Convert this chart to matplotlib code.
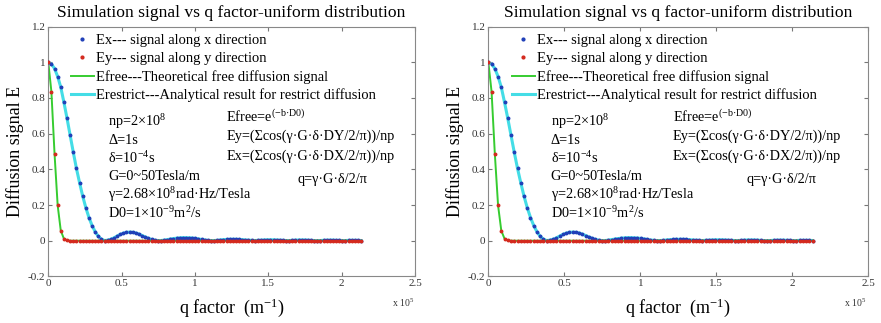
"""
Simulated vs analytical diffusion signal against q factor (uniform distribution),
drawn twice side by side as in the reference figure.
"""

import matplotlib.pyplot as plt
from matplotlib.lines import Line2D

plt.rcParams["font.family"] = ["Liberation Serif", "DejaVu Serif"]
plt.rcParams["mathtext.fontset"] = "custom"
plt.rcParams["mathtext.rm"] = "Liberation Serif"
plt.rcParams["mathtext.it"] = "Liberation Serif:italic"
plt.rcParams["mathtext.bf"] = "Liberation Serif:bold"

# q factor, in units of 1e5 m^-1 (G = 0 ~ 50 Tesla/m in 101 steps)
Q = [
    0.0, 0.0213, 0.0427, 0.0640, 0.0853, 0.1067, 0.1280, 0.1493, 0.1706, 0.1920,
    0.2133, 0.2346, 0.2560, 0.2773, 0.2986, 0.3200, 0.3413, 0.3626, 0.3839, 0.4053,
    0.4266, 0.4479, 0.4693, 0.4906, 0.5119, 0.5333, 0.5546, 0.5759, 0.5972, 0.6186,
    0.6399, 0.6612, 0.6826, 0.7039, 0.7252, 0.7466, 0.7679, 0.7892, 0.8105, 0.8319,
    0.8532, 0.8745, 0.8959, 0.9172, 0.9385, 0.9599, 0.9812, 1.0025, 1.0238, 1.0452,
    1.0665, 1.0878, 1.1092, 1.1305, 1.1518, 1.1732, 1.1945, 1.2158, 1.2371, 1.2585,
    1.2798, 1.3011, 1.3225, 1.3438, 1.3651, 1.3865, 1.4078, 1.4291, 1.4504, 1.4718,
    1.4931, 1.5144, 1.5358, 1.5571, 1.5784, 1.5998, 1.6211, 1.6424, 1.6637, 1.6851,
    1.7064, 1.7277, 1.7491, 1.7704, 1.7917, 1.8131, 1.8344, 1.8557, 1.8770, 1.8984,
    1.9197, 1.9410, 1.9624, 1.9837, 2.0050, 2.0264, 2.0477, 2.0690, 2.0903, 2.1117,
    2.1330,
]

# simulated signal along x (blue dots)
EX = [
    1.0, 0.99, 0.965, 0.92, 0.86, 0.775, 0.685, 0.59, 0.495, 0.405,
    0.325, 0.25, 0.185, 0.13, 0.085, 0.05, 0.024, 0.008, 0.001,
    0.003, 0.008, 0.016, 0.026, 0.035, 0.042, 0.047, 0.048, 0.047, 0.043,
    0.037, 0.029, 0.021, 0.013, 0.007, 0.003, 0.001, 0.001,
    0.003, 0.006, 0.009, 0.012, 0.014, 0.016, 0.017, 0.017, 0.016, 0.015,
    0.013, 0.010, 0.007, 0.004, 0.002, 0.001, 0.001,
    0.002, 0.004, 0.006, 0.007, 0.008, 0.008, 0.008, 0.007, 0.006, 0.004,
    0.003, 0.002, 0.001,
    0.002, 0.003, 0.004, 0.005, 0.005, 0.005, 0.004, 0.003, 0.002, 0.001, 0.001,
    0.002, 0.003, 0.004, 0.004, 0.004, 0.003, 0.002, 0.001, 0.001, 0.001,
    0.002, 0.003, 0.003, 0.003, 0.002, 0.002, 0.001, 0.001, 0.002, 0.002,
    0.002, 0.002, 0.001,
]

# analytical restricted result sits on top of the Ex dots
E_RESTRICT = EX

# simulated signal along y (red dots) and theoretical free diffusion (green)
EY = [1.0, 0.835, 0.487, 0.198, 0.056, 0.011, 0.002] + [0.0] * 94
EFREE = [1.0, 0.835, 0.487, 0.198, 0.056, 0.011, 0.002] + [0.0] * 94

LEGEND_LABELS = [
    "Ex--- signal along x direction",
    "Ey--- signal along y direction",
    "Efree---Theoretical free diffusion signal",
    "Erestrict---Analytical result for restrict diffusion",
]

PARAM_TEXT = [
    r"np=2×10$^{\mathregular{8}}$",
    "Δ=1s",
    r"δ=10$^{\mathregular{-4}}$s",
    "G=0~50Tesla/m",
    r"γ=2.68×10$^{\mathregular{8}}$rad·Hz/Tesla",
    r"D0=1×10$^{\mathregular{-9}}$m$^{\mathregular{2}}$/s",
]
FORMULA_TEXT = [
    r"Efree=e$^{\mathregular{(-b·D0)}}$",
    "Ey=(Σcos(γ·G·δ·DY/2/π))/np",
    "Ex=(Σcos(γ·G·δ·DX/2/π))/np",
]

YTICKS = [-0.2, 0, 0.2, 0.4, 0.6, 0.8, 1, 1.2]
YTICK_LABELS = ["-0.2", "0", "0.2", "0.4", "0.6", "0.8", "1", "1.2"]
XTICKS = [0, 0.5, 1, 1.5, 2, 2.5]
XTICK_LABELS = ["0", "0.5", "1", "1.5", "2", "2.5"]

C_EX = "#2040b8"
C_EY = "#d42a1e"
C_FREE = "#36cc30"
C_RESTRICT = "#44dde6"


def draw_panel(ax):
    ax.plot(Q, E_RESTRICT, color=C_RESTRICT, lw=2.2, zorder=2)
    ax.plot(Q, EFREE, color=C_FREE, lw=1.4, zorder=2)
    ax.plot(Q, EX, ls="none", marker=".", ms=3.6, color=C_EX, zorder=3)
    ax.plot(Q, EY, ls="none", marker=".", ms=3.6, color=C_EY, zorder=3)

    handles = [
        Line2D([], [], ls="none", marker=".", ms=4, color=C_EX),
        Line2D([], [], ls="none", marker=".", ms=4, color=C_EY),
        Line2D([], [], color=C_FREE, lw=1.4),
        Line2D([], [], color=C_RESTRICT, lw=2.2),
    ]
    ax.legend(handles, LEGEND_LABELS, loc="upper left",
              bbox_to_anchor=(0.061, 0.97), frameon=False, fontsize=10.5,
              handlelength=1.6, handletextpad=0.15, labelspacing=0.32,
              borderpad=0, borderaxespad=0, numpoints=1)

    for i, s in enumerate(PARAM_TEXT):
        ax.text(0.41, 0.665 - 0.102 * i, s, fontsize=10.3, va="center")
    for i, s in enumerate(FORMULA_TEXT):
        ax.text(1.215, 0.695 - 0.11 * i, s, fontsize=10.3, va="center")
    ax.text(1.70, 0.344, "q=γ·G·δ/2/π", fontsize=10.3, va="center")

    ax.set_xlim(0, 2.5)
    ax.set_ylim(-0.2, 1.2)
    ax.set_xticks(XTICKS, XTICK_LABELS)
    ax.set_yticks(YTICKS, YTICK_LABELS)
    ax.tick_params(direction="in", length=3, top=True, right=True,
                   labelsize=8, color="#777777", labelcolor="#333333", pad=2)
    for sp in ax.spines.values():
        sp.set_color("#888888")
        sp.set_linewidth(0.8)

    ax.set_title("Simulation signal vs q factor-uniform distribution",
                 fontsize=12.6, pad=7)
    ax.set_xlabel(r"q factor  (m$^{\mathregular{-1}}$)", fontsize=13, labelpad=6)
    ax.set_ylabel("Diffusion signal E", fontsize=13, labelpad=3)
    ax.text(0.937, -0.106, r"x 10$^{\mathregular{5}}$", transform=ax.transAxes,
            fontsize=7, color="#333333", va="center")


fig = plt.figure(figsize=(8.81, 3.23), dpi=100)
ax1 = fig.add_axes([0.0548, 0.1443, 0.4162, 0.7734])
ax2 = fig.add_axes([0.5543, 0.1443, 0.4313, 0.7734])
draw_panel(ax1)
draw_panel(ax2)

fig.savefig("out.png", dpi=100)
